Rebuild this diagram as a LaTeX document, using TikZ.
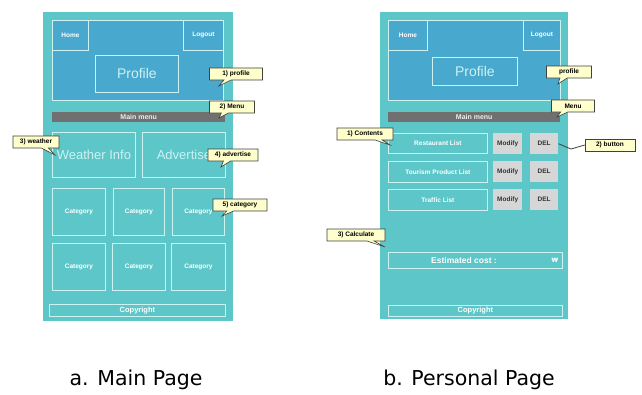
\documentclass[tikz,border=0pt]{standalone}
\usepackage{fontspec}
\setmainfont{Liberation Sans}
\newfontfamily\capfont{DejaVu Sans}
\newfontfamily\wonfont{DejaVu Sans}
\usetikzlibrary{shapes.callouts}
\definecolor{tealbg}{RGB}{92,198,200}
\definecolor{headblue}{RGB}{72,168,206}
\definecolor{menugray}{RGB}{112,112,112}
\definecolor{lineblue}{RGB}{205,242,242}
\definecolor{notefill}{RGB}{255,255,204}
\definecolor{btngray}{RGB}{214,214,214}
\begin{document}
\begin{tikzpicture}[x=1pt,y=-1pt,
    box/.style={draw=lineblue,line width=0.8pt,anchor=north west,inner sep=0pt,
      text=white,font=\bfseries\fontsize{6.5}{7}\selectfont},
    bar/.style={fill=menugray,anchor=north west,inner sep=0pt,minimum width=172pt,
      minimum height=10pt,text=white!85!gray,font=\bfseries\fontsize{7}{7}\selectfont},
    btn/.style={fill=btngray,anchor=north west,inner sep=0pt,minimum width=29pt,
      minimum height=21pt,text=black!80,font=\bfseries\fontsize{6.5}{7}\selectfont},
    note/.style={rectangle callout,draw=black!75,fill=notefill,line width=0.6pt,
      inner sep=1pt,minimum height=12pt,font=\bfseries\fontsize{6.5}{7}\selectfont}]
  \useasboundingbox (0,0) rectangle (642,394);

  % a. main page
  \fill[tealbg] (43,12) rectangle (233,321);
  \node[box,fill=headblue,minimum width=171pt,minimum height=80pt] (headA) at (52,20) {};
  \node[box,minimum width=36pt,minimum height=30pt] (homeA) at (52,20) {Home};
  \node[box,minimum width=40pt,minimum height=30pt] (logoutA) at (183,20) {Logout};
  \node[box,minimum width=83pt,minimum height=37pt,font=\fontsize{14}{15}\selectfont,text=lineblue] (profA) at (95,55) {Profile};
  \node[bar,minimum width=173pt] (menuA) at (52,112) {Main menu};
  \node[box,minimum width=83pt,minimum height=45pt,font=\fontsize{13}{14}\selectfont,text=lineblue] (weatherA) at (52,132) {Weather Info};
  \node[box,minimum width=83pt,minimum height=45pt,font=\fontsize{13}{14}\selectfont,text=lineblue] (advA) at (142,132) {Advertise};
  \node[box,minimum width=53pt,minimum height=47pt] (catA) at (52,188) {Category};
  \node[box,minimum width=51pt,minimum height=47pt] (catB) at (113,188) {Category};
  \node[box,minimum width=52pt,minimum height=47pt] (catC) at (172,188) {Category};
  \node[box,minimum width=53pt,minimum height=47pt] (catD) at (52,243) {Category};
  \node[box,minimum width=53pt,minimum height=47pt] (catE) at (112,243) {Category};
  \node[box,minimum width=54pt,minimum height=47pt] (catF) at (171,243) {Category};
  \node[box,minimum width=176pt,minimum height=12pt,font=\bfseries\fontsize{7.5}{8}\selectfont] (copyA) at (49,304) {Copyright};

  \node[note,minimum width=53pt,callout absolute pointer={(219,86)}] (noteProfA) at (236,74) {1) profile};
  \node[note,minimum width=45pt,callout absolute pointer={(219,118)}] (noteMenuA) at (232,107) {2) Menu};
  \node[note,minimum width=46pt,callout absolute pointer={(55,155)}] (noteWeather) at (36,142) {3) weather};
  \node[note,minimum width=50pt,callout absolute pointer={(221,167)}] (noteAdv) at (233,155) {4) advertise};
  \node[note,minimum width=54pt,callout absolute pointer={(222,216)}] (noteCat) at (240,205) {5) category};

  % b. personal page
  \fill[tealbg] (380,12) rectangle (568,319);
  \node[box,fill=headblue,minimum width=172pt,minimum height=80pt] (headB) at (388,20) {};
  \node[box,minimum width=39pt,minimum height=30pt] (homeB) at (388,20) {Home};
  \node[box,minimum width=37pt,minimum height=30pt] (logoutB) at (523,20) {Logout};
  \node[box,minimum width=85pt,minimum height=28pt,font=\fontsize{14}{15}\selectfont,text=lineblue] (profB) at (432,57) {Profile};
  \node[bar] (menuB) at (388,112) {Main menu};
  \node[box,minimum width=99pt,minimum height=20pt] (listA) at (388,133) {Restaurant List};
  \node[box,minimum width=99pt,minimum height=21pt] (listB) at (388,161) {Tourism Product List};
  \node[box,minimum width=99pt,minimum height=21pt] (listC) at (388,189) {Traffic List};
  \node[btn] (modA) at (493,133) {Modify};
  \node[btn] (modB) at (493,161) {Modify};
  \node[btn] (modC) at (493,189) {Modify};
  \node[btn,minimum width=28pt] (delA) at (530,133) {DEL};
  \node[btn,minimum width=28pt] (delB) at (530,161) {DEL};
  \node[btn,minimum width=28pt] (delC) at (530,189) {DEL};
  \node[box,minimum width=174pt,minimum height=16pt] (cost) at (388,252) {};
  \node[text=white,font=\bfseries\fontsize{8.5}{9}\selectfont] (costText) at (464,260) {Estimated cost :};
  \node[text=white,font=\wonfont\bfseries\fontsize{6}{7}\selectfont] (won) at (555,260) {₩};
  \node[box,minimum width=174pt,minimum height=11pt,font=\bfseries\fontsize{7.5}{8}\selectfont] (copyB) at (388,305) {Copyright};

  \node[note,minimum width=45pt,callout absolute pointer={(558,84)}] (noteProfB) at (569,72) {profile};
  \node[note,minimum width=43pt,callout absolute pointer={(557,117)}] (noteMenuB) at (573,106) {Menu};
  \node[note,minimum width=56pt,callout absolute pointer={(390,145)}] (noteList) at (365,134) {1) Contents};
  \node[note,rectangle,minimum width=50pt] (noteBtn) at (610,145) {2) button};
  \coordinate (bend) at (571,149);
  \draw[black!75,line width=0.8pt] (delA.east) -- (bend) -- (noteBtn.west);
  \node[note,minimum width=58pt,callout absolute pointer={(385,247)}] (noteCalc) at (356,235) {3) Calculate};

  % captions
  \node[font=\capfont\fontsize{20.5}{22}\selectfont] (capA) at (136,380) {a. Main Page};
  \node[font=\capfont\fontsize{20.5}{22}\selectfont] (capB) at (469,380) {b. Personal Page};
\end{tikzpicture}
\end{document}
